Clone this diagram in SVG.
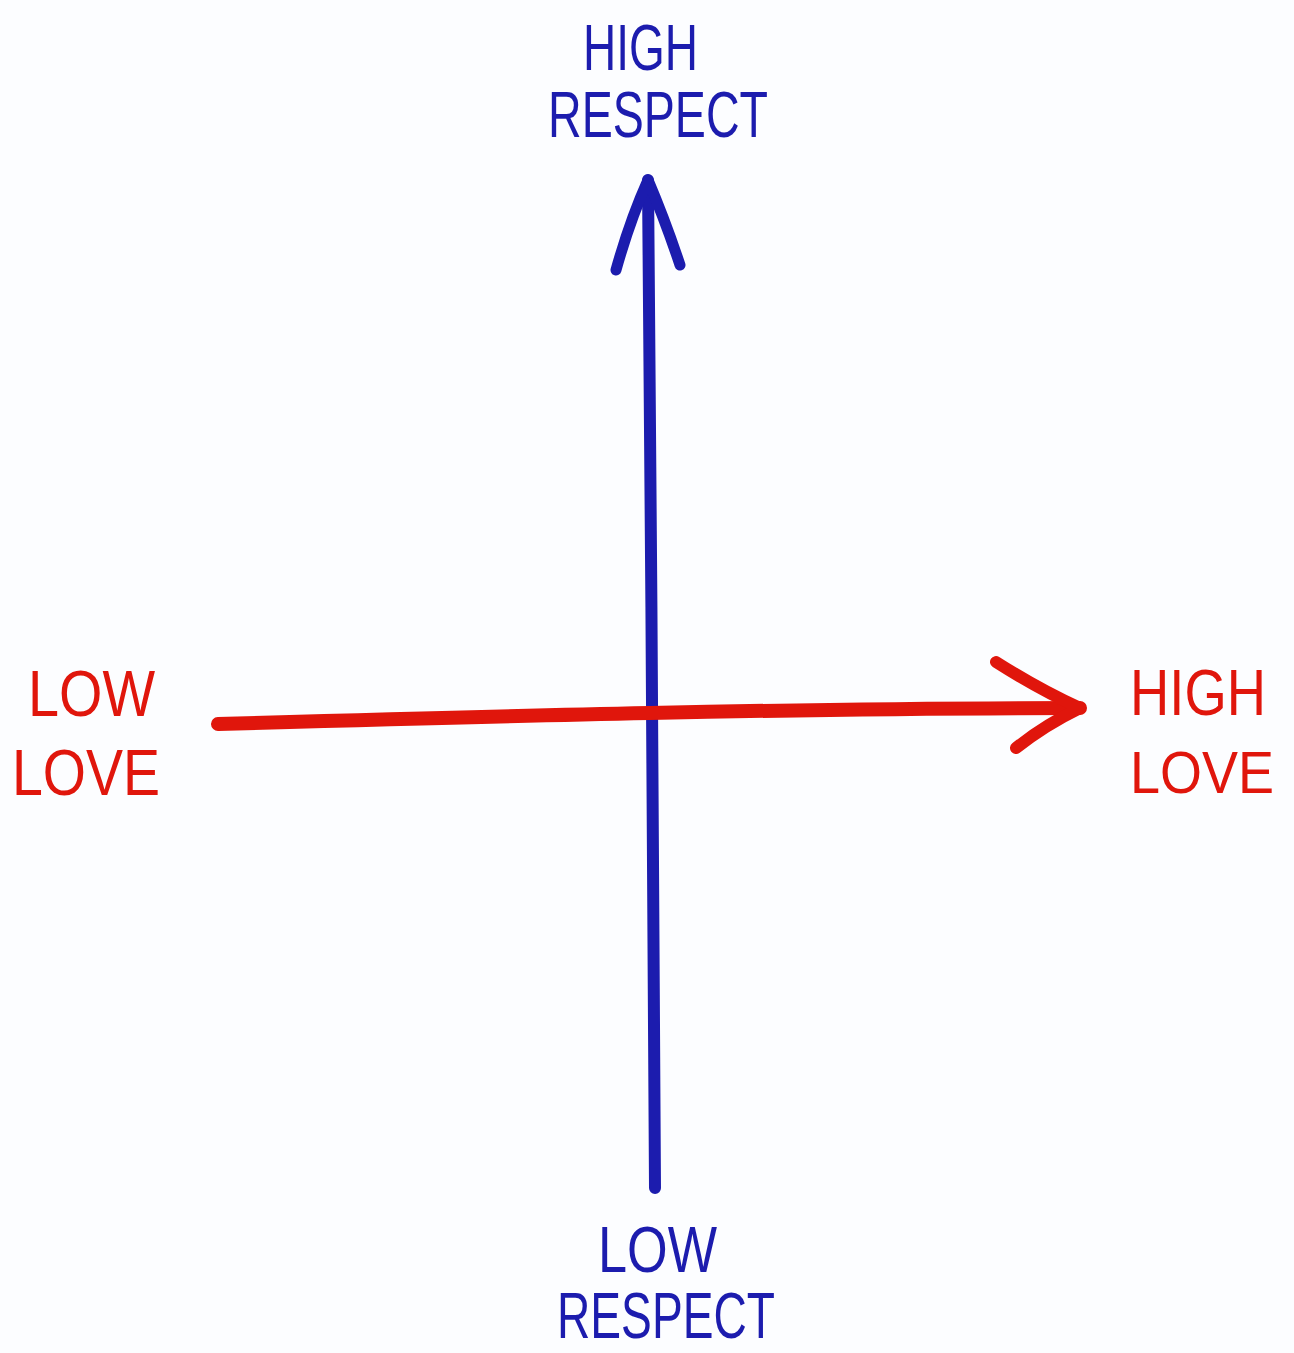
<svg xmlns="http://www.w3.org/2000/svg" width="1294" height="1353" viewBox="0 0 1294 1353">
<style>
.lbl{font-family:"Liberation Sans",Arial,sans-serif;font-size:64px;}
.blue{fill:#1c1cae;}
.red{fill:#e0160c;}
.ax{fill:none;stroke-linecap:round;stroke-linejoin:round;}
</style>
<rect width="1294" height="1353" fill="#fcfdff"/>
<g id="connectors">
<path class="ax" d="M655 1188 C652 900 652 500 648 180" stroke="#1c1cae" stroke-width="12"/>
<path class="ax" d="M616 270 Q630 220 648 180 Q665 220 680 265" stroke="#1c1cae" stroke-width="11"/>
<path class="ax" d="M218 724 C500 716 800 708 1080 708" stroke="#e0160c" stroke-width="14"/>
<path class="ax" d="M996 662 Q1040 690 1080 708 Q1045 725 1016 748" stroke="#e0160c" stroke-width="12"/>
</g>
<g id="high-respect">
<text class="lbl blue" x="583" y="70" textLength="115" lengthAdjust="spacingAndGlyphs">HIGH</text>
<text class="lbl blue" x="548" y="137" textLength="220" lengthAdjust="spacingAndGlyphs">RESPECT</text>
</g>
<g id="low-respect">
<text class="lbl blue" x="598" y="1272" textLength="119" lengthAdjust="spacingAndGlyphs">LOW</text>
<text class="lbl blue" x="557" y="1338" textLength="218" lengthAdjust="spacingAndGlyphs">RESPECT</text>
</g>
<g id="low-love">
<text class="lbl red" x="28" y="716" textLength="127" lengthAdjust="spacingAndGlyphs">LOW</text>
<text class="lbl red" x="12" y="795" textLength="148" lengthAdjust="spacingAndGlyphs">LOVE</text>
</g>
<g id="high-love">
<text class="lbl red" x="1130" y="715" textLength="136" lengthAdjust="spacingAndGlyphs">HIGH</text>
<text class="lbl red" x="1130" y="793" font-size="60" style="font-size:60px" textLength="144" lengthAdjust="spacingAndGlyphs">LOVE</text>
</g>
</svg>
